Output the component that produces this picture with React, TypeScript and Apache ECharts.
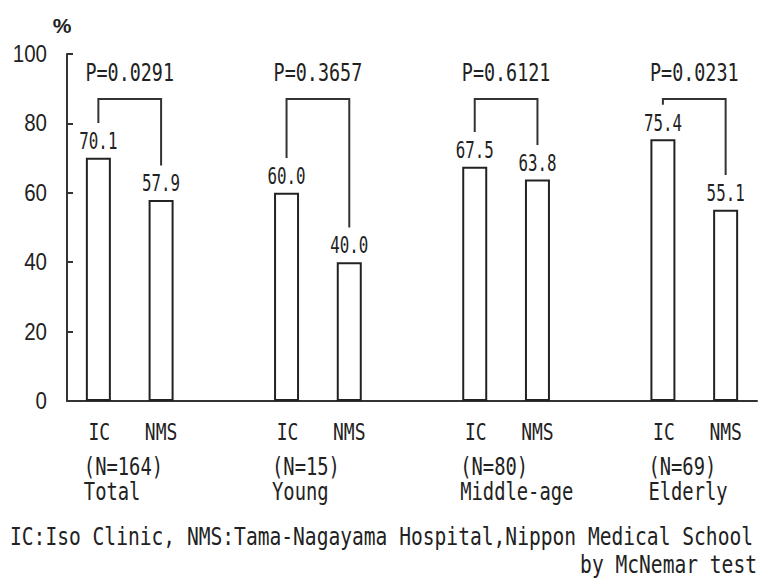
import React, { useEffect, useRef } from "react";
import * as echarts from "echarts";

// slot categories: IC / NMS per group, with an empty gap slot between groups
const slots = ["IC", "NMS", "", "IC", "NMS", "", "IC", "NMS", "", "IC", "NMS"];
const groupNames = ["Total", "Young", "Middle-age", "Elderly"];
const groupN = ["(N=164)", "(N=15)", "(N=80)", "(N=69)"];
const icValues = [70.1, 60.0, 67.5, 75.4];
const nmsValues = [57.9, 40.0, 63.8, 55.1];
const pLabels = ["P=0.0291", "P=0.3657", "P=0.6121", "P=0.0231"];
const yTicks = [0, 20, 40, 60, 80, 100];
const yUnit = "%";
const footnote1 = "IC:Iso Clinic, NMS:Tama-Nagayama Hospital,Nippon Medical School";
const footnote2 = "by McNemar test";

const BRACKET_TOP = 87;
const BRACKET_GAP = 10;
const P_LABEL_Y = 94.5;
const MONO = "'DejaVu Sans Mono', monospace";
const SANS = "'Liberation Sans', Arial, sans-serif";
const INK = "#222";

export default function App() {
  const ref = useRef<HTMLDivElement>(null);
  useEffect(() => {
    if (!ref.current) return;
    const chart = echarts.init(ref.current, undefined, { renderer: "svg" });
    const barW = 25;

    const icData = icValues.map((v, g) => [g * 3, v]);
    const nmsData = nmsValues.map((v, g) => [g * 3 + 1, v]);
    const groupData = icValues.map((v, g) => [g * 3, v, nmsValues[g], g]);
    const tickData = yTicks.map((v) => [0, v]);

    const txt = (
      x: number,
      y: number,
      text: string,
      size: number,
      align: string,
      valign: string,
      sy: number,
      family: string = MONO,
      extra: any = {}
    ) => ({
      type: "text",
      x,
      y,
      scaleY: sy,
      style: {
        text,
        fontFamily: family,
        fontSize: size,
        fill: INK,
        align,
        textAlign: align,
        verticalAlign: valign,
        textVerticalAlign: valign,
        ...extra,
      },
    });

    chart.setOption({
      animation: false,
      backgroundColor: "#fff",
      grid: { left: 67, right: 3, top: 54, bottom: 177, outerBoundsMode: "none" },
      xAxis: {
        type: "category",
        data: slots,
        axisLine: { lineStyle: { color: "#333", width: 2 } },
        axisTick: { show: false },
        axisLabel: { show: false },
      },
      yAxis: {
        type: "value",
        min: yTicks[0],
        max: yTicks[yTicks.length - 1],
        interval: 20,
        axisLine: { show: true, lineStyle: { color: "#333", width: 2 } },
        axisTick: { show: true, inside: true, length: 6, lineStyle: { color: "#333", width: 2 } },
        splitLine: { show: false },
        axisLabel: { show: false },
      },
      graphic: [
        {
          type: "text",
          x: 62,
          y: 25,
          style: {
            text: yUnit,
            fontFamily: SANS,
            fontSize: 21,
            fontWeight: "bold",
            fill: INK,
            align: "center",
            textAlign: "center",
            verticalAlign: "middle",
            textVerticalAlign: "middle",
          },
        },
        txt(10, 536, footnote1, 19.6, "left", "middle", 1.3),
        txt(757, 564, footnote2, 19.6, "right", "middle", 1.3),
      ],
      series: [
        {
          type: "bar",
          name: "IC",
          data: icData,
          barWidth: barW,
          barGap: "-100%",
          itemStyle: { color: "#fff", borderColor: INK, borderWidth: 2 },
        },
        {
          type: "bar",
          name: "NMS",
          data: nmsData,
          barWidth: barW,
          barGap: "-100%",
          itemStyle: { color: "#fff", borderColor: INK, borderWidth: 2 },
        },
        {
          type: "custom",
          name: "yLabels",
          data: tickData,
          encode: { x: 0, y: 1 },
          clip: false,
          renderItem: (params: any, api: any) => {
            const v = api.value(1) as number;
            const y = api.coord([0, v])[1];
            const x = params.coordSys.x - 20;
            return txt(x, y, String(v), 20.5, "right", "middle", 1.15, SANS);
          },
        },
        {
          type: "custom",
          name: "brackets",
          data: groupData,
          encode: { x: 0, y: [1, 2] },
          z: 10,
          clip: false,
          renderItem: (params: any, api: any) => {
            const ic = api.value(0) as number;
            const g = api.value(3) as number;
            const nms = ic + 1;
            const icV = api.value(1) as number;
            const nV = api.value(2) as number;
            const pIc = api.coord([ic, icV]);
            const pN = api.coord([nms, nV]);
            const xI = pIc[0];
            const xN = pN[0];
            const top = api.coord([ic, BRACKET_TOP])[1];
            const icEnd = api.coord([ic, icV + BRACKET_GAP])[1];
            const nEnd = api.coord([nms, nV + BRACKET_GAP])[1];
            const pY = api.coord([ic, P_LABEL_Y])[1];
            const zeroY = api.coord([ic, 0])[1];
            const left = xI - barW / 2 - 2;
            return {
              type: "group",
              children: [
                {
                  type: "polyline",
                  shape: { points: [[xI, icEnd], [xI, top], [xN, top], [xN, nEnd]] },
                  style: { stroke: "#333", lineWidth: 2, fill: "none" },
                },
                txt((xI + xN) / 2, pY, pLabels[g], 18.4, "center", "middle", 1.3),
                txt(xI, pIc[1] - 5, icV.toFixed(1), 15.8, "center", "bottom", 1.4),
                txt(xN, pN[1] - 5, nV.toFixed(1), 15.8, "center", "bottom", 1.4),
                txt(xI + 1, zeroY + 31, slots[ic], 18, "center", "middle", 1.3),
                txt(xN, zeroY + 31, slots[nms], 18, "center", "middle", 1.3),
                txt(left, zeroY + 66, groupN[g], 18.8, "left", "middle", 1.3),
                txt(left, zeroY + 91, groupNames[g], 18.8, "left", "middle", 1.3),
              ],
            };
          },
        },
      ],
    });
    return () => chart.dispose();
  }, []);
  return (
    <div
      ref={ref}
      style={{ position: "fixed", left: 0, top: 0, width: 760, height: 578, background: "#fff" }}
    />
  );
}
